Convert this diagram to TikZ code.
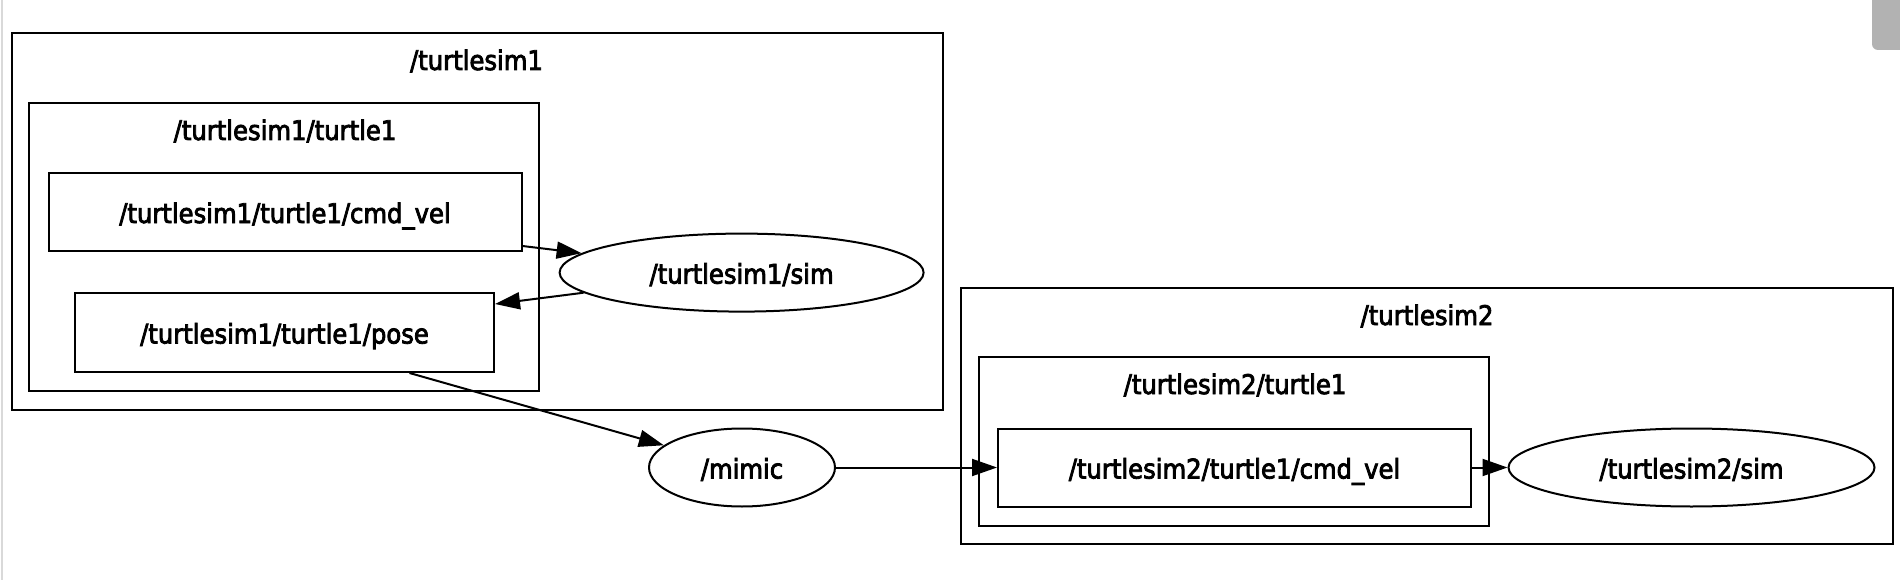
\documentclass[tikz,border=0pt]{standalone}
\usepackage{fontspec}
\setmainfont{DejaVu Sans Condensed}[FakeBold=3]
\usetikzlibrary{shapes.geometric,arrows.meta}
\begin{document}
\begin{tikzpicture}[x=1pt,y=-1pt,
  every node/.style={font=\fontsize{27}{30}\selectfont, inner sep=0pt, text height=22pt, text depth=0pt},
  cluster/.style={draw, line width=2pt, rectangle},
  topic/.style={draw, line width=2pt, rectangle},
  proc/.style={draw, line width=2pt, ellipse},
  lbl/.style={anchor=base, text height=, text depth=},
  edge/.style={line width=2pt, -{Triangle[length=25pt,width=17pt]}}]
\useasboundingbox (0,0) rectangle (1900,580);
\fill[white] (0,0) rectangle (1900,580);
% screenshot artifacts
\draw[black!15, line width=2pt] (2,0) -- (2,580);
\fill[black!30, rounded corners=6pt] (1872,-10) rectangle (1910,50);
% clusters
\node[cluster, minimum width=931pt, minimum height=377pt] (c1) at (477.5,221.5) {};
\node[lbl] (c1l) at (476.5,70) {/turtlesim1};
\node[cluster, minimum width=510pt, minimum height=288pt] (c1t) at (284,247) {};
\node[lbl] (c1tl) at (285,140) {/turtlesim1/turtle1};
\node[cluster, minimum width=932pt, minimum height=256pt] (c2) at (1427,416) {};
\node[lbl] (c2l) at (1427,325) {/turtlesim2};
\node[cluster, minimum width=510pt, minimum height=169pt] (c2t) at (1234,441.5) {};
\node[lbl] (c2tl) at (1235,394) {/turtlesim2/turtle1};
% topics
\node[topic, minimum width=473pt, minimum height=78pt] (cmd) at (285,212) {/turtlesim1/turtle1/cmd\_vel};
\node[topic, minimum width=419pt, minimum height=79pt] (pose) at (284.5,332.5) {/turtlesim1/turtle1/pose};
\node[topic, minimum width=473pt, minimum height=78pt] (cmd2) at (1234.5,467.5) {/turtlesim2/turtle1/cmd\_vel};
% processes
\node[proc, minimum width=364pt, minimum height=78pt] (sim) at (741.6,272.6) {/turtlesim1/sim};
\node[proc, minimum width=186pt, minimum height=78pt] (mimic) at (742,467.5) {/mimic};
\node[proc, minimum width=366pt, minimum height=78pt] (sim2) at (1691.5,467.5) {/turtlesim2/sim};
% edges
\draw[edge] ([yshift=6pt]cmd.south east) -- (sim);
\draw[edge] (sim) -- ([yshift=-12pt]pose.north east);
\draw[edge] ([xshift=125pt]pose.south) -- (mimic);
\draw[edge] (mimic) -- (cmd2);
\draw[edge] (cmd2) -- (sim2);
\end{tikzpicture}
\end{document}
